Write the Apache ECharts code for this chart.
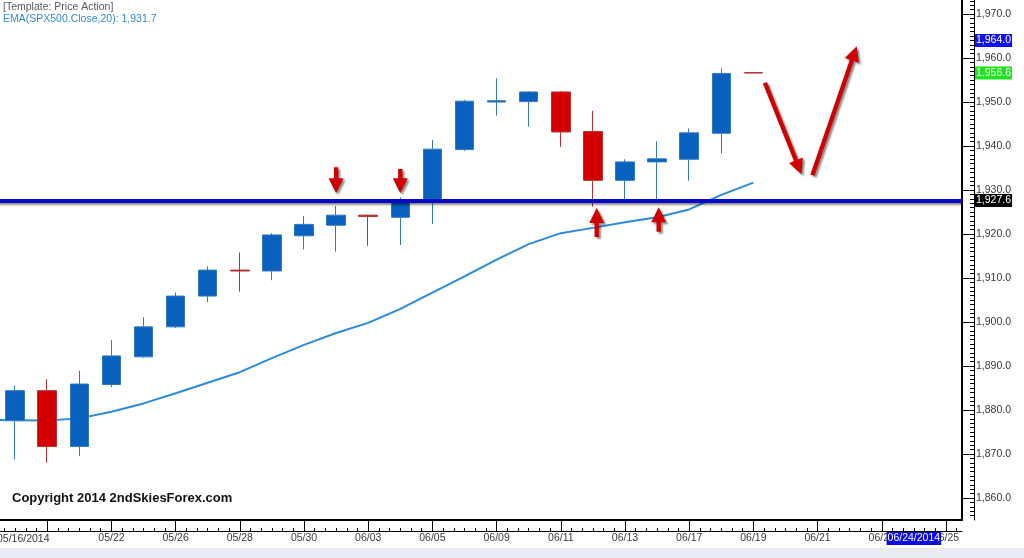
<!DOCTYPE html>
<html><head><meta charset="utf-8">
<script src="https://cdn.jsdelivr.net/npm/echarts@6/dist/echarts.min.js"></script>
<style>html,body{margin:0;padding:0;background:#fff;overflow:hidden}#c{width:1024px;height:558px}</style>
</head><body><div id="c"></div>
<script>
// ---- data ----
const dates = ['05/16','05/19','05/20','05/21','05/22','05/23','05/26','05/27','05/28','05/29','05/30',
  '06/02','06/03','06/04','06/05','06/06','06/09','06/10','06/11','06/12','06/13','06/16','06/17',
  '06/18','06/19','06/20','06/21','06/22','06/23','06/24','06/25'];
const opens  = [null,1877.6,1884.4,1871.7,1885.8,1892.1,1898.9,1905.9,1911.8,1911.6,1919.6,1922.0,1924.3,1923.8,1927.9,1939.2,1950.0,1950.1,1952.3,1943.3,1932.2,1936.4,1937.0,1942.9,1956.7];
const closes = [null,1884.4,1871.7,1885.9,1892.3,1898.9,1905.9,1911.8,1911.6,1919.8,1922.2,1924.3,1924.0,1927.8,1939.3,1950.2,1950.3,1952.3,1943.2,1932.2,1936.4,1937.1,1943.0,1956.5,1956.6];
const lows   = [null,1868.8,1868.0,1869.5,1885.2,1891.9,1898.6,1904.5,1906.9,1909.5,1916.5,1916.0,1917.3,1917.5,1922.3,1938.9,1946.9,1944.4,1939.8,1926.2,1927.7,1927.7,1932.1,1938.3,1956.6];
const highs  = [null,1885.6,1887.0,1888.9,1895.9,1901.1,1906.7,1912.7,1915.8,1920.2,1924.1,1926.4,1924.4,1928.3,1941.4,1950.5,1955.4,1952.5,1952.5,1948.0,1937.0,1941.1,1944.0,1957.7,1956.7];
const ema20  = [1877.8,1877.7,1877.6,1878.1,1879.6,1881.5,1883.8,1886.2,1888.6,1891.8,1894.8,1897.5,1899.8,1903.0,1906.7,1910.4,1914.2,1917.7,1920.2,1921.4,1922.7,1923.8,1925.6,1928.9,1931.7];
const supportLevel = 1927.6;
const targetLevel = 1964.0;
const lastPrice = 1956.6;
const yMajorTicks = [1860,1870,1880,1890,1900,1910,1920,1930,1940,1950,1960,1970];
// arrows: [x0(index), y0, x1(index), y1 (tip)]
const arrowsX0 = [11, 13, 19.12, 21.05, 24.36, 25.84];
const arrowsY0 = [1935.2, 1934.8, 1919.3, 1920.5, 1954.4, 1933.4];
const arrowsX1 = [11, 13, 19.12, 21.05, 25.50, 27.22];
const arrowsY1 = [1929.3, 1929.3, 1925.9, 1926.1, 1933.6, 1962.7];
const highlightIndex = 29;
const highlightLabel = '06/24/2014';
const firstLabel = '05/16/2014';

// ---- build ----
const candleData = dates.map((d, i) => opens[i] == null || i >= opens.length ? '-' : [opens[i], closes[i], lows[i], highs[i]]);
const emaData = dates.map((d, i) => i < ema20.length ? ema20[i] : '-');
const arrowData = arrowsX0.map((x, i) => [x, arrowsY0[i], arrowsX1[i], arrowsY1[i]]);
const yMinor = [];
for (let v = 1856; v <= 1973; v++) if (v % 10 !== 0) yMinor.push(v);
const xMajor = [];
for (let k = 0; k <= 30; k += 2) xMajor.push(k);
const xMinor = [];
for (let j = -1; j <= 91; j++) { if (j % 6 !== 0) xMinor.push(j / 3); }
const fmt = v => v.toLocaleString('en-US', {minimumFractionDigits: 1, maximumFractionDigits: 1});

const FONT = 'Liberation Sans';
const YMIN = 1855.0, YMAX = 1973.2;
const chart = echarts.init(document.getElementById('c'), null, {renderer: 'canvas'});
chart.setOption({
  animation: false,
  backgroundColor: '#fff',
  title: {
    text: '[Template: Price Action]',
    subtext: 'EMA(SPX500.Close,20): ' + fmt(ema20[ema20.length - 1]),
    left: 0, top: 0, padding: [1, 3], itemGap: 0,
    textStyle: {fontFamily: FONT, fontSize: 10.5, fontWeight: 'normal', color: '#5a5a5a', lineHeight: 12},
    subtextStyle: {fontFamily: FONT, fontSize: 10.5, color: '#2f8ad8', lineHeight: 12}
  },
  grid: {left: -33, right: 62, top: 0, bottom: 38, containLabel: false, outerBoundsMode: 'none'},
  xAxis: [
    {type: 'category', data: dates, boundaryGap: true, position: 'bottom', offset: 0,
      axisLine: {onZero: false, lineStyle: {color: '#000', width: 2}}, axisTick: {show: false}, splitLine: {show: false},
      axisLabel: {interval: (i) => i % 2 === 0 && i >= 4, margin: 13, fontFamily: FONT, fontSize: 10.5, color: '#3a3a3a'}},
    {type: 'value', min: -0.5, max: 30.5, position: 'bottom', offset: 11, z: 5,
      axisLine: {show: true, onZero: false, lineStyle: {color: '#000', width: 1}},
      axisTick: {show: true, inside: true, length: 10, customValues: xMajor, lineStyle: {color: '#000'}},
      splitLine: {show: false},
      axisLabel: {show: true, customValues: [highlightIndex], formatter: () => highlightLabel, margin: 1,
        fontFamily: FONT, fontSize: 10.5, color: '#fff', backgroundColor: '#0a0ae6', padding: [1, 1]}},
    {type: 'value', min: -0.5, max: 30.5, position: 'bottom', offset: 11,
      axisLine: {show: false, onZero: false}, splitLine: {show: false}, axisLabel: {show: false},
      axisTick: {show: true, inside: true, length: 3, customValues: xMinor, lineStyle: {color: '#000'}}}
  ],
  yAxis: [
    {type: 'value', position: 'right', min: YMIN, max: YMAX, offset: 0,
      axisLine: {show: true, onZero: false, lineStyle: {color: '#000', width: 2}},
      axisTick: {show: false}, axisLabel: {show: false}, splitLine: {show: false}},
    {type: 'value', position: 'right', min: YMIN, max: YMAX, offset: 12,
      axisLine: {show: true, onZero: false, lineStyle: {color: '#000', width: 1}},
      axisTick: {show: true, inside: true, length: 12, customValues: yMajorTicks, lineStyle: {color: '#000'}},
      axisLabel: {show: true, customValues: yMajorTicks, formatter: v => fmt(v), margin: 2,
        fontFamily: FONT, fontSize: 10.5, color: '#3a3a3a'},
      splitLine: {show: false}},
    {type: 'value', position: 'right', min: YMIN, max: YMAX, offset: 12,
      axisLine: {show: false, onZero: false}, axisLabel: {show: false}, splitLine: {show: false},
      axisTick: {show: true, inside: true, length: 4, customValues: yMinor, lineStyle: {color: '#000'}}}
  ],
  series: [
    {type: 'line', name: 'EMA', xAxisIndex: 0, yAxisIndex: 0, data: emaData, showSymbol: false, symbol: 'none',
      lineStyle: {color: '#2a8ae0', width: 2}, z: 2},
    {type: 'candlestick', name: 'SPX500', xAxisIndex: 0, yAxisIndex: 0, data: candleData, barWidth: 19, z: 3,
      itemStyle: {color: '#0861bd', color0: '#d40000', borderColor: '#3279c2', borderColor0: '#b83232', borderWidth: 1},
      markLine: {
        silent: true, symbol: 'none', animation: false,
        data: [
          {yAxis: supportLevel, lineStyle: {color: '#0808c8', width: 4, type: 'solid', shadowColor: 'rgba(0,0,0,0.45)', shadowBlur: 2, shadowOffsetY: 2},
            label: {show: true, position: 'end', distance: 13, formatter: fmt(supportLevel), backgroundColor: '#000', color: '#fff', padding: [1, 1], fontFamily: FONT, fontSize: 10.5}},
          {yAxis: targetLevel, lineStyle: {color: 'rgba(0,0,0,0)', width: 0},
            label: {show: true, position: 'end', distance: 13, formatter: fmt(targetLevel), backgroundColor: '#1212f0', color: '#fff', padding: [1, 1], fontFamily: FONT, fontSize: 10.5}},
          {yAxis: lastPrice, lineStyle: {color: 'rgba(0,0,0,0)', width: 0},
            label: {show: true, position: 'end', distance: 13, formatter: fmt(lastPrice), backgroundColor: '#1ee61e', color: '#fff', padding: [1, 1], fontFamily: FONT, fontSize: 10.5}}
        ]
      }},
    {type: 'custom', name: 'arrows', xAxisIndex: 1, yAxisIndex: 0, data: arrowData, clip: false, z: 6,
      encode: {x: [0, 2], y: [1, 3]},
      renderItem: (params, api) => {
        const p0 = api.coord([api.value(0), api.value(1)]);
        const p1 = api.coord([api.value(2), api.value(3)]);
        const dx = p1[0] - p0[0], dy = p1[1] - p0[1];
        const len = Math.hypot(dx, dy);
        const ux = dx / len, uy = dy / len, nx = -uy, ny = ux;
        const headL = 15, headW = 7.5, shaftW = 2.2;
        const bx = p1[0] - ux * headL, by = p1[1] - uy * headL;
        const pts = [
          [p0[0] + nx * shaftW, p0[1] + ny * shaftW],
          [bx + nx * shaftW, by + ny * shaftW],
          [bx + nx * headW, by + ny * headW],
          [p1[0], p1[1]],
          [bx - nx * headW, by - ny * headW],
          [bx - nx * shaftW, by - ny * shaftW],
          [p0[0] - nx * shaftW, p0[1] - ny * shaftW]
        ];
        return {type: 'polygon', shape: {points: pts},
          style: {fill: '#d00000', shadowColor: 'rgba(0,0,0,0.45)', shadowBlur: 2, shadowOffsetX: 2, shadowOffsetY: 2}};
      }}
  ],
  graphic: [
    {type: 'rect', left: 0, top: 548, shape: {width: 1024, height: 10}, style: {fill: '#e9ecf2'}, silent: true},
    {type: 'text', left: -3, top: 534, style: {text: firstLabel, font: '10.5px "Liberation Sans"', fill: '#3a3a3a'}},
    {type: 'text', left: 12, top: 492, style: {text: 'Copyright 2014 2ndSkiesForex.com', font: 'bold 13px "Liberation Sans"', fill: '#111'}}
  ]
});
</script></body></html>
